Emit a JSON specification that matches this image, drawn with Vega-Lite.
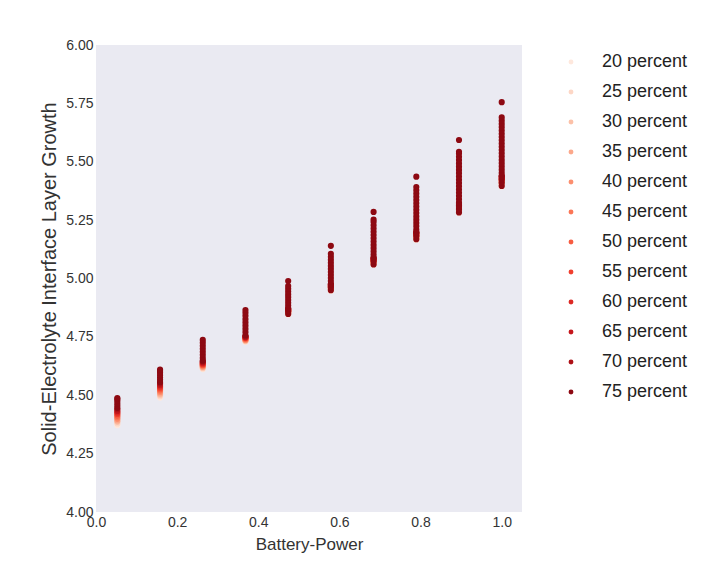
{
  "$schema": "https://vega.github.io/schema/vega-lite/v6.json",
  "autosize": "none",
  "width": 426,
  "height": 467,
  "padding": {"left": 96, "top": 45, "right": 201, "bottom": 68},
  "background": "white",
  "config": {
    "view": {"fill": "#EAEAF2", "stroke": null},
    "font": "Arial",
    "axis": {"labelFont": "Arial", "titleFont": "Arial"},
    "legend": {"labelFont": "Arial"}
  },
  "datasets": {
    "light": [
      {"x": 0.0526, "y": 4.372, "p": "20 percent"}, {"x": 0.0526, "y": 4.379, "p": "25 percent"}, {"x": 0.0526, "y": 4.386, "p": "30 percent"}, {"x": 0.0526, "y": 4.392, "p": "35 percent"}, {"x": 0.0526, "y": 4.399, "p": "40 percent"}, {"x": 0.0526, "y": 4.406, "p": "45 percent"}, {"x": 0.0526, "y": 4.413, "p": "50 percent"}, {"x": 0.0526, "y": 4.42, "p": "55 percent"}, {"x": 0.0526, "y": 4.426, "p": "60 percent"}, {"x": 0.0526, "y": 4.433, "p": "65 percent"}, {"x": 0.0526, "y": 4.44, "p": "70 percent"},
      {"x": 0.1579, "y": 4.49, "p": "20 percent"}, {"x": 0.1579, "y": 4.496, "p": "25 percent"}, {"x": 0.1579, "y": 4.502, "p": "30 percent"}, {"x": 0.1579, "y": 4.508, "p": "35 percent"}, {"x": 0.1579, "y": 4.514, "p": "40 percent"}, {"x": 0.1579, "y": 4.52, "p": "45 percent"}, {"x": 0.1579, "y": 4.526, "p": "50 percent"}, {"x": 0.1579, "y": 4.532, "p": "55 percent"}, {"x": 0.1579, "y": 4.538, "p": "60 percent"}, {"x": 0.1579, "y": 4.544, "p": "65 percent"}, {"x": 0.1579, "y": 4.55, "p": "70 percent"},
      {"x": 0.2632, "y": 4.612, "p": "20 percent"}, {"x": 0.2632, "y": 4.615, "p": "25 percent"}, {"x": 0.2632, "y": 4.618, "p": "30 percent"}, {"x": 0.2632, "y": 4.621, "p": "35 percent"}, {"x": 0.2632, "y": 4.624, "p": "40 percent"}, {"x": 0.2632, "y": 4.627, "p": "45 percent"}, {"x": 0.2632, "y": 4.63, "p": "50 percent"}, {"x": 0.2632, "y": 4.633, "p": "55 percent"}, {"x": 0.2632, "y": 4.636, "p": "60 percent"}, {"x": 0.2632, "y": 4.64, "p": "65 percent"}, {"x": 0.2632, "y": 4.644, "p": "70 percent"},
      {"x": 0.3684, "y": 4.728, "p": "20 percent"}, {"x": 0.3684, "y": 4.731, "p": "25 percent"}, {"x": 0.3684, "y": 4.733, "p": "30 percent"}, {"x": 0.3684, "y": 4.736, "p": "35 percent"}, {"x": 0.3684, "y": 4.738, "p": "40 percent"}, {"x": 0.3684, "y": 4.74, "p": "45 percent"}, {"x": 0.3684, "y": 4.743, "p": "50 percent"}, {"x": 0.3684, "y": 4.745, "p": "55 percent"}, {"x": 0.3684, "y": 4.747, "p": "60 percent"}, {"x": 0.3684, "y": 4.75, "p": "65 percent"}, {"x": 0.3684, "y": 4.752, "p": "70 percent"},
      {"x": 0.4737, "y": 4.845, "p": "20 percent"}, {"x": 0.4737, "y": 4.848, "p": "25 percent"}, {"x": 0.4737, "y": 4.85, "p": "30 percent"}, {"x": 0.4737, "y": 4.853, "p": "35 percent"}, {"x": 0.4737, "y": 4.855, "p": "40 percent"}, {"x": 0.4737, "y": 4.858, "p": "45 percent"}, {"x": 0.4737, "y": 4.86, "p": "50 percent"}, {"x": 0.4737, "y": 4.863, "p": "55 percent"}, {"x": 0.4737, "y": 4.865, "p": "60 percent"}, {"x": 0.4737, "y": 4.868, "p": "65 percent"}, {"x": 0.4737, "y": 4.87, "p": "70 percent"},
      {"x": 0.5789, "y": 4.947, "p": "20 percent"}, {"x": 0.5789, "y": 4.95, "p": "25 percent"}, {"x": 0.5789, "y": 4.953, "p": "30 percent"}, {"x": 0.5789, "y": 4.955, "p": "35 percent"}, {"x": 0.5789, "y": 4.958, "p": "40 percent"}, {"x": 0.5789, "y": 4.961, "p": "45 percent"}, {"x": 0.5789, "y": 4.964, "p": "50 percent"}, {"x": 0.5789, "y": 4.967, "p": "55 percent"}, {"x": 0.5789, "y": 4.97, "p": "60 percent"}, {"x": 0.5789, "y": 4.972, "p": "65 percent"}, {"x": 0.5789, "y": 4.975, "p": "70 percent"},
      {"x": 0.6842, "y": 5.058, "p": "20 percent"}, {"x": 0.6842, "y": 5.061, "p": "25 percent"}, {"x": 0.6842, "y": 5.064, "p": "30 percent"}, {"x": 0.6842, "y": 5.067, "p": "35 percent"}, {"x": 0.6842, "y": 5.07, "p": "40 percent"}, {"x": 0.6842, "y": 5.073, "p": "45 percent"}, {"x": 0.6842, "y": 5.076, "p": "50 percent"}, {"x": 0.6842, "y": 5.079, "p": "55 percent"}, {"x": 0.6842, "y": 5.082, "p": "60 percent"}, {"x": 0.6842, "y": 5.085, "p": "65 percent"}, {"x": 0.6842, "y": 5.088, "p": "70 percent"},
      {"x": 0.7895, "y": 5.165, "p": "20 percent"}, {"x": 0.7895, "y": 5.168, "p": "25 percent"}, {"x": 0.7895, "y": 5.172, "p": "30 percent"}, {"x": 0.7895, "y": 5.175, "p": "35 percent"}, {"x": 0.7895, "y": 5.179, "p": "40 percent"}, {"x": 0.7895, "y": 5.182, "p": "45 percent"}, {"x": 0.7895, "y": 5.186, "p": "50 percent"}, {"x": 0.7895, "y": 5.189, "p": "55 percent"}, {"x": 0.7895, "y": 5.193, "p": "60 percent"}, {"x": 0.7895, "y": 5.196, "p": "65 percent"}, {"x": 0.7895, "y": 5.2, "p": "70 percent"},
      {"x": 0.8947, "y": 5.28, "p": "20 percent"}, {"x": 0.8947, "y": 5.284, "p": "25 percent"}, {"x": 0.8947, "y": 5.288, "p": "30 percent"}, {"x": 0.8947, "y": 5.292, "p": "35 percent"}, {"x": 0.8947, "y": 5.296, "p": "40 percent"}, {"x": 0.8947, "y": 5.3, "p": "45 percent"}, {"x": 0.8947, "y": 5.304, "p": "50 percent"}, {"x": 0.8947, "y": 5.308, "p": "55 percent"}, {"x": 0.8947, "y": 5.312, "p": "60 percent"}, {"x": 0.8947, "y": 5.316, "p": "65 percent"}, {"x": 0.8947, "y": 5.32, "p": "70 percent"},
      {"x": 1.0, "y": 5.393, "p": "20 percent"}, {"x": 1.0, "y": 5.398, "p": "25 percent"}, {"x": 1.0, "y": 5.402, "p": "30 percent"}, {"x": 1.0, "y": 5.407, "p": "35 percent"}, {"x": 1.0, "y": 5.412, "p": "40 percent"}, {"x": 1.0, "y": 5.416, "p": "45 percent"}, {"x": 1.0, "y": 5.421, "p": "50 percent"}, {"x": 1.0, "y": 5.426, "p": "55 percent"}, {"x": 1.0, "y": 5.43, "p": "60 percent"}, {"x": 1.0, "y": 5.435, "p": "65 percent"}, {"x": 1.0, "y": 5.44, "p": "70 percent"}
    ],
    "dark": [
      {"x": 0.0526, "y": 4.446, "p": "75 percent"}, {"x": 0.0526, "y": 4.456, "p": "75 percent"}, {"x": 0.0526, "y": 4.466, "p": "75 percent"}, {"x": 0.0526, "y": 4.476, "p": "75 percent"}, {"x": 0.0526, "y": 4.484, "p": "75 percent"}, {"x": 0.0526, "y": 4.488, "p": "75 percent"},
      {"x": 0.1579, "y": 4.556, "p": "75 percent"}, {"x": 0.1579, "y": 4.566, "p": "75 percent"}, {"x": 0.1579, "y": 4.576, "p": "75 percent"}, {"x": 0.1579, "y": 4.586, "p": "75 percent"}, {"x": 0.1579, "y": 4.596, "p": "75 percent"}, {"x": 0.1579, "y": 4.604, "p": "75 percent"}, {"x": 0.1579, "y": 4.61, "p": "75 percent"},
      {"x": 0.2632, "y": 4.648, "p": "75 percent"}, {"x": 0.2632, "y": 4.66, "p": "75 percent"}, {"x": 0.2632, "y": 4.673, "p": "75 percent"}, {"x": 0.2632, "y": 4.686, "p": "75 percent"}, {"x": 0.2632, "y": 4.699, "p": "75 percent"}, {"x": 0.2632, "y": 4.712, "p": "75 percent"}, {"x": 0.2632, "y": 4.725, "p": "75 percent"}, {"x": 0.2632, "y": 4.737, "p": "75 percent"},
      {"x": 0.3684, "y": 4.756, "p": "75 percent"}, {"x": 0.3684, "y": 4.77, "p": "75 percent"}, {"x": 0.3684, "y": 4.784, "p": "75 percent"}, {"x": 0.3684, "y": 4.798, "p": "75 percent"}, {"x": 0.3684, "y": 4.812, "p": "75 percent"}, {"x": 0.3684, "y": 4.826, "p": "75 percent"}, {"x": 0.3684, "y": 4.84, "p": "75 percent"}, {"x": 0.3684, "y": 4.853, "p": "75 percent"}, {"x": 0.3684, "y": 4.865, "p": "75 percent"},
      {"x": 0.4737, "y": 4.848, "p": "75 percent"}, {"x": 0.4737, "y": 4.86, "p": "75 percent"}, {"x": 0.4737, "y": 4.872, "p": "75 percent"}, {"x": 0.4737, "y": 4.884, "p": "75 percent"}, {"x": 0.4737, "y": 4.896, "p": "75 percent"}, {"x": 0.4737, "y": 4.908, "p": "75 percent"}, {"x": 0.4737, "y": 4.92, "p": "75 percent"}, {"x": 0.4737, "y": 4.932, "p": "75 percent"}, {"x": 0.4737, "y": 4.944, "p": "75 percent"}, {"x": 0.4737, "y": 4.956, "p": "75 percent"}, {"x": 0.4737, "y": 4.968, "p": "75 percent"}, {"x": 0.4737, "y": 4.989, "p": "75 percent"},
      {"x": 0.5789, "y": 4.95, "p": "75 percent"}, {"x": 0.5789, "y": 4.963, "p": "75 percent"}, {"x": 0.5789, "y": 4.976, "p": "75 percent"}, {"x": 0.5789, "y": 4.989, "p": "75 percent"}, {"x": 0.5789, "y": 5.002, "p": "75 percent"}, {"x": 0.5789, "y": 5.015, "p": "75 percent"}, {"x": 0.5789, "y": 5.028, "p": "75 percent"}, {"x": 0.5789, "y": 5.041, "p": "75 percent"}, {"x": 0.5789, "y": 5.054, "p": "75 percent"}, {"x": 0.5789, "y": 5.067, "p": "75 percent"}, {"x": 0.5789, "y": 5.08, "p": "75 percent"}, {"x": 0.5789, "y": 5.093, "p": "75 percent"}, {"x": 0.5789, "y": 5.106, "p": "75 percent"}, {"x": 0.5789, "y": 5.14, "p": "75 percent"},
      {"x": 0.6842, "y": 5.06, "p": "75 percent"}, {"x": 0.6842, "y": 5.074, "p": "75 percent"}, {"x": 0.6842, "y": 5.088, "p": "75 percent"}, {"x": 0.6842, "y": 5.102, "p": "75 percent"}, {"x": 0.6842, "y": 5.116, "p": "75 percent"}, {"x": 0.6842, "y": 5.13, "p": "75 percent"}, {"x": 0.6842, "y": 5.144, "p": "75 percent"}, {"x": 0.6842, "y": 5.158, "p": "75 percent"}, {"x": 0.6842, "y": 5.172, "p": "75 percent"}, {"x": 0.6842, "y": 5.186, "p": "75 percent"}, {"x": 0.6842, "y": 5.2, "p": "75 percent"}, {"x": 0.6842, "y": 5.214, "p": "75 percent"}, {"x": 0.6842, "y": 5.228, "p": "75 percent"}, {"x": 0.6842, "y": 5.242, "p": "75 percent"}, {"x": 0.6842, "y": 5.252, "p": "75 percent"}, {"x": 0.6842, "y": 5.285, "p": "75 percent"},
      {"x": 0.7895, "y": 5.168, "p": "75 percent"}, {"x": 0.7895, "y": 5.182, "p": "75 percent"}, {"x": 0.7895, "y": 5.196, "p": "75 percent"}, {"x": 0.7895, "y": 5.21, "p": "75 percent"}, {"x": 0.7895, "y": 5.224, "p": "75 percent"}, {"x": 0.7895, "y": 5.238, "p": "75 percent"}, {"x": 0.7895, "y": 5.252, "p": "75 percent"}, {"x": 0.7895, "y": 5.266, "p": "75 percent"}, {"x": 0.7895, "y": 5.28, "p": "75 percent"}, {"x": 0.7895, "y": 5.294, "p": "75 percent"}, {"x": 0.7895, "y": 5.308, "p": "75 percent"}, {"x": 0.7895, "y": 5.322, "p": "75 percent"}, {"x": 0.7895, "y": 5.336, "p": "75 percent"}, {"x": 0.7895, "y": 5.35, "p": "75 percent"}, {"x": 0.7895, "y": 5.364, "p": "75 percent"}, {"x": 0.7895, "y": 5.378, "p": "75 percent"}, {"x": 0.7895, "y": 5.392, "p": "75 percent"}, {"x": 0.7895, "y": 5.436, "p": "75 percent"},
      {"x": 0.8947, "y": 5.283, "p": "75 percent"}, {"x": 0.8947, "y": 5.297, "p": "75 percent"}, {"x": 0.8947, "y": 5.311, "p": "75 percent"}, {"x": 0.8947, "y": 5.325, "p": "75 percent"}, {"x": 0.8947, "y": 5.339, "p": "75 percent"}, {"x": 0.8947, "y": 5.353, "p": "75 percent"}, {"x": 0.8947, "y": 5.367, "p": "75 percent"}, {"x": 0.8947, "y": 5.381, "p": "75 percent"}, {"x": 0.8947, "y": 5.395, "p": "75 percent"}, {"x": 0.8947, "y": 5.409, "p": "75 percent"}, {"x": 0.8947, "y": 5.423, "p": "75 percent"}, {"x": 0.8947, "y": 5.437, "p": "75 percent"}, {"x": 0.8947, "y": 5.451, "p": "75 percent"}, {"x": 0.8947, "y": 5.465, "p": "75 percent"}, {"x": 0.8947, "y": 5.479, "p": "75 percent"}, {"x": 0.8947, "y": 5.493, "p": "75 percent"}, {"x": 0.8947, "y": 5.507, "p": "75 percent"}, {"x": 0.8947, "y": 5.521, "p": "75 percent"}, {"x": 0.8947, "y": 5.535, "p": "75 percent"}, {"x": 0.8947, "y": 5.543, "p": "75 percent"}, {"x": 0.8947, "y": 5.593, "p": "75 percent"},
      {"x": 1.0, "y": 5.396, "p": "75 percent"}, {"x": 1.0, "y": 5.41, "p": "75 percent"}, {"x": 1.0, "y": 5.424, "p": "75 percent"}, {"x": 1.0, "y": 5.438, "p": "75 percent"}, {"x": 1.0, "y": 5.452, "p": "75 percent"}, {"x": 1.0, "y": 5.466, "p": "75 percent"}, {"x": 1.0, "y": 5.48, "p": "75 percent"}, {"x": 1.0, "y": 5.494, "p": "75 percent"}, {"x": 1.0, "y": 5.508, "p": "75 percent"}, {"x": 1.0, "y": 5.522, "p": "75 percent"}, {"x": 1.0, "y": 5.536, "p": "75 percent"}, {"x": 1.0, "y": 5.55, "p": "75 percent"}, {"x": 1.0, "y": 5.564, "p": "75 percent"}, {"x": 1.0, "y": 5.578, "p": "75 percent"}, {"x": 1.0, "y": 5.592, "p": "75 percent"}, {"x": 1.0, "y": 5.606, "p": "75 percent"}, {"x": 1.0, "y": 5.62, "p": "75 percent"}, {"x": 1.0, "y": 5.634, "p": "75 percent"}, {"x": 1.0, "y": 5.648, "p": "75 percent"}, {"x": 1.0, "y": 5.662, "p": "75 percent"}, {"x": 1.0, "y": 5.676, "p": "75 percent"}, {"x": 1.0, "y": 5.69, "p": "75 percent"}, {"x": 1.0, "y": 5.755, "p": "75 percent"}
    ]
  },
  "encoding": {
    "x": {
      "field": "x", "type": "quantitative", "title": "Battery-Power",
      "scale": {"domain": [0, 1.05], "nice": false, "zero": false},
      "axis": {"values": [0, 0.2, 0.4, 0.6, 0.8, 1.0], "format": ".1f", "grid": false, "domain": false, "ticks": false, "labelPadding": 3, "labelFontSize": 14, "labelColor": "#333333", "titleFontSize": 17, "titleFontWeight": "normal", "titleColor": "#333333", "titlePadding": 7, "labelFlush": false}
    },
    "y": {
      "field": "y", "type": "quantitative", "title": "Solid-Electrolyte Interface Layer Growth",
      "scale": {"domain": [4, 6], "nice": false, "zero": false},
      "axis": {"values": [4, 4.25, 4.5, 4.75, 5, 5.25, 5.5, 5.75, 6], "format": ".2f", "grid": false, "domain": false, "ticks": false, "labelPadding": 3, "labelFontSize": 14, "labelColor": "#333333", "titleFontSize": 20, "titleFontWeight": "normal", "titleColor": "#333333", "titlePadding": 6, "labelFlush": false}
    },
    "color": {
      "field": "p", "type": "nominal",
      "scale": {
        "domain": ["20 percent", "25 percent", "30 percent", "35 percent", "40 percent", "45 percent", "50 percent", "55 percent", "60 percent", "65 percent", "70 percent", "75 percent"],
        "range": ["#fee8dd", "#fdd7c6", "#fcc1a8", "#fca88b", "#fc8f6f", "#fb7656", "#f75c41", "#f03f2e", "#dc2924", "#c5171c", "#ae1117", "#8d0912"]
      },
      "legend": {
        "title": null, "orient": "none", "legendX": 466, "legendY": 8, "padding": 0,
        "symbolType": "circle", "symbolSize": 24, "symbolOpacity": 1, "symbolStrokeWidth": 0,
        "labelFontSize": 18, "labelColor": "#222222", "labelOffset": 22, "rowPadding": 12
      }
    }
  },
  "layer": [
    {"data": {"name": "light"}, "mark": {"type": "circle", "size": 38, "opacity": 1}},
    {"data": {"name": "dark"}, "mark": {"type": "circle", "size": 38, "opacity": 1}}
  ]
}
